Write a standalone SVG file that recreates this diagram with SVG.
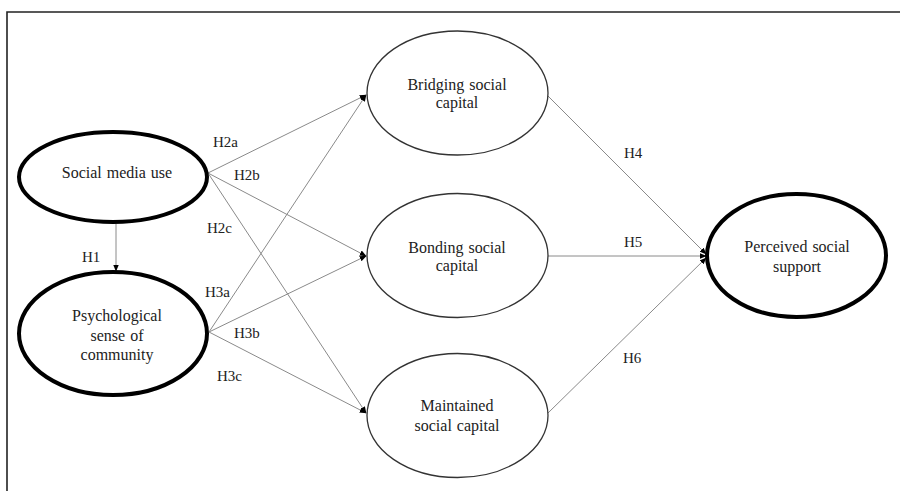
<svg xmlns="http://www.w3.org/2000/svg" width="900" height="491" viewBox="0 0 900 491">
<style>
.thick{fill:#fff;stroke:#000;stroke-width:4}
.thin{fill:#fff;stroke:#333;stroke-width:1.3}
.lbl{font-family:'Liberation Serif','DejaVu Serif',serif;font-size:16px;fill:#222;text-anchor:middle;word-spacing:1px}
.h{font-family:'Liberation Serif','DejaVu Serif',serif;font-size:15px;fill:#222}
.edge{stroke:#8a8a8a;stroke-width:1;fill:none;marker-end:url(#ah)}
</style>
<defs>
<marker id="ah" viewBox="0 0 10 10" refX="9" refY="5" markerWidth="7" markerHeight="7" markerUnits="userSpaceOnUse" orient="auto">
<path d="M0,1 L10,5 L0,9 z" fill="#000"/>
</marker>
</defs>
<rect width="900" height="491" fill="#fff"/>
<path d="M7,491 V12 H900" fill="none" stroke="#222" stroke-width="1.6"/>
<g id="connectors">
<line class="edge" x1="116" y1="224" x2="116" y2="271"/>
<line class="edge" x1="208" y1="173" x2="366" y2="95"/>
<line class="edge" x1="208" y1="173" x2="366" y2="256"/>
<line class="edge" x1="208" y1="173" x2="366" y2="413"/>
<line class="edge" x1="209" y1="332" x2="366" y2="95"/>
<line class="edge" x1="209" y1="332" x2="366" y2="256"/>
<line class="edge" x1="209" y1="332" x2="366" y2="413"/>
<line class="edge" x1="548" y1="96" x2="706" y2="254"/>
<line class="edge" x1="548" y1="256" x2="706" y2="256"/>
<line class="edge" x1="548" y1="413" x2="706" y2="258"/>
<text class="h" x="213" y="147" font-family="Liberation Serif, serif">H2a</text>
<text class="h" x="234" y="180" font-family="Liberation Serif, serif">H2b</text>
<text class="h" x="207" y="233" font-family="Liberation Serif, serif">H2c</text>
<text class="h" x="82" y="262" font-family="Liberation Serif, serif">H1</text>
<text class="h" x="205" y="297" font-family="Liberation Serif, serif">H3a</text>
<text class="h" x="234" y="338" font-family="Liberation Serif, serif">H3b</text>
<text class="h" x="217" y="381" font-family="Liberation Serif, serif">H3c</text>
<text class="h" x="624" y="158" font-family="Liberation Serif, serif">H4</text>
<text class="h" x="624" y="247" font-family="Liberation Serif, serif">H5</text>
<text class="h" x="623" y="363" font-family="Liberation Serif, serif">H6</text>
</g>
<g id="social-media-use">
<ellipse class="thick" cx="113" cy="177" rx="94" ry="45"/>
<text class="lbl" x="117" y="178" font-family="Liberation Serif, serif">Social media use</text>
</g>
<g id="psychological-sense">
<ellipse class="thick" cx="113" cy="333.5" rx="94" ry="61.5"/>
<text class="lbl" x="117" y="321" font-family="Liberation Serif, serif">Psychological</text>
<text class="lbl" x="117" y="341" font-family="Liberation Serif, serif">sense of</text>
<text class="lbl" x="117" y="360" font-family="Liberation Serif, serif">community</text>
</g>
<g id="bridging">
<ellipse class="thin" cx="457.5" cy="93" rx="90.5" ry="62"/>
<text class="lbl" x="457" y="90" font-family="Liberation Serif, serif">Bridging social</text>
<text class="lbl" x="457" y="108" font-family="Liberation Serif, serif">capital</text>
</g>
<g id="bonding">
<ellipse class="thin" cx="457.5" cy="255.5" rx="90.5" ry="62"/>
<text class="lbl" x="457" y="253" font-family="Liberation Serif, serif">Bonding social</text>
<text class="lbl" x="457" y="271" font-family="Liberation Serif, serif">capital</text>
</g>
<g id="maintained">
<ellipse class="thin" cx="457.5" cy="415.5" rx="90.5" ry="62"/>
<text class="lbl" x="457" y="411" font-family="Liberation Serif, serif">Maintained</text>
<text class="lbl" x="457" y="431" font-family="Liberation Serif, serif">social capital</text>
</g>
<g id="perceived-support">
<ellipse class="thick" cx="796.5" cy="255.5" rx="89.5" ry="61.5"/>
<text class="lbl" x="797" y="252" font-family="Liberation Serif, serif">Perceived social</text>
<text class="lbl" x="797" y="272" font-family="Liberation Serif, serif">support</text>
</g>
</svg>
